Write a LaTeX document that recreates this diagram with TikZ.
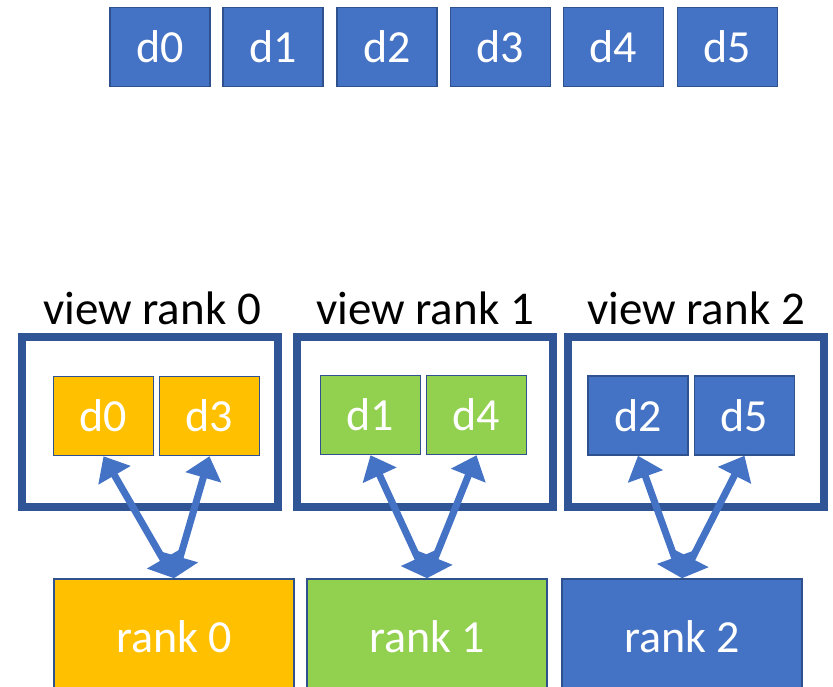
\documentclass[tikz,border=0pt]{standalone}
\usepackage{fontspec}
\setmainfont{Carlito}
\usetikzlibrary{arrows.meta,positioning}

\definecolor{cblue}{HTML}{4472C4}
\definecolor{cedge}{HTML}{2F528F}
\definecolor{cframe}{HTML}{2F5597}
\definecolor{cyellow}{HTML}{FFC000}
\definecolor{cgreen}{HTML}{92D050}

\begin{document}
\begin{tikzpicture}[x=1pt,y=-1pt,
  cell/.style={draw=cedge,line width=1.5pt,text=white,minimum width=100pt,minimum height=79pt,inner sep=0pt,font=\fontsize{46}{55}\selectfont},
  view/.style={draw=cframe,line width=8pt,minimum width=256pt,minimum height=170pt,inner sep=0pt},
  rankbox/.style={draw=cedge,line width=1.5pt,text=white,minimum width=240pt,minimum height=115pt,inner sep=0pt,font=\fontsize{46}{55}\selectfont},
  caption/.style={anchor=base,inner sep=0pt,font=\fontsize{47}{56}\selectfont},
  link/.style={cblue,line width=7pt,{Triangle[length=22pt,width=36pt]}-{Triangle[length=22pt,width=36pt]}}]
\useasboundingbox (0,0) rectangle (833,687);

% data
\node[cell,fill=cblue] (data0) at (160,47) {d0};
\node[cell,fill=cblue] (data1) at (273,47) {d1};
\node[cell,fill=cblue] (data2) at (387,47) {d2};
\node[cell,fill=cblue] (data3) at (500.5,47) {d3};
\node[cell,fill=cblue] (data4) at (613.5,47) {d4};
\node[cell,fill=cblue] (data5) at (727.5,47) {d5};

% views
\node[view] (view0) at (150,422) {};
\node[view] (view1) at (425,422) {};
\node[view] (view2) at (696,422) {};
\node[caption] (cap0) at (152,324) {view rank 0};
\node[caption] (cap1) at (425,324) {view rank 1};
\node[caption] (cap2) at (696,324) {view rank 2};

\node[cell,fill=cyellow] (v0d0) at (103.5,416) {d0};
\node[cell,fill=cyellow] (v0d3) at (209.5,416) {d3};
\node[cell,fill=cgreen] (v1d1) at (370.5,415) {d1};
\node[cell,fill=cgreen] (v1d4) at (476.5,415) {d4};
\node[cell,fill=cblue] (v2d2) at (638,415.5) {d2};
\node[cell,fill=cblue] (v2d5) at (744.5,415.5) {d5};

% ranks
\node[rankbox,fill=cyellow] (rank0) at (174,636.5) {rank 0};
\node[rankbox,fill=cgreen] (rank1) at (427,636.5) {rank 1};
\node[rankbox,fill=cblue] (rank2) at (682,636.5) {rank 2};

% arrows
\draw[link] (v0d0.south) -- (rank0.north);
\draw[link] (v0d3.south) -- (rank0.north);
\draw[link] (v1d1.south) -- (rank1.north);
\draw[link] (v1d4.south) -- (rank1.north);
\draw[link] (v2d2.south) -- (rank2.north);
\draw[link] (v2d5.south) -- (rank2.north);
\end{tikzpicture}
\end{document}
